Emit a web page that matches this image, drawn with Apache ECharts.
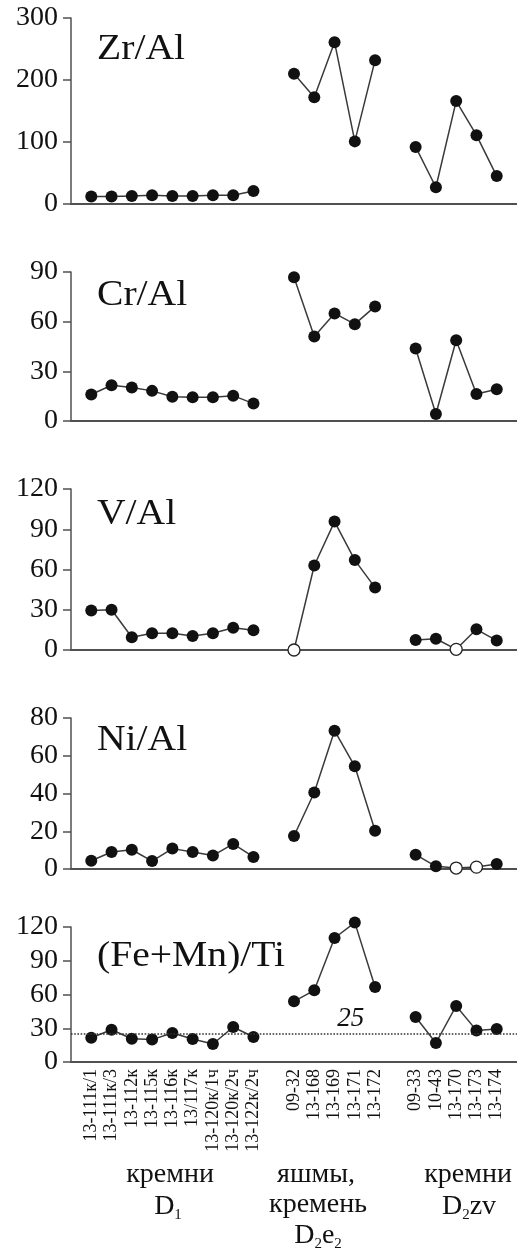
<!DOCTYPE html>
<html>
<head>
<meta charset="utf-8">
<script src="https://cdn.jsdelivr.net/npm/echarts@6/dist/echarts.min.js"></script>
<style>
html,body{margin:0;padding:0;background:#fff;}
#c{width:517px;height:1251px;}
</style>
</head>
<body>
<div id="c"></div>
<script>
// sample names per group
const groupD1 = ['13-111к/1','13-111к/3','13-112к','13-115к','13-116к','13/117к','13-120к/1ч','13-120к/2ч','13-122к/2ч'];
const groupD2e2 = ['09-32','13-168','13-169','13-171','13-172'];
const groupD2zv = ['09-33','10-43','13-170','13-173','13-174'];

// values (D1 | D2e2 | D2zv)
const zrAl  = [12,12,13,14,13,13,14,14,21,   210,172,261,101,232,   92,27,166,111,45];
const crAl  = [16,21.6,20.2,18.2,14.7,14.3,14.3,15.3,10.5,   86.8,51,65,58.5,69.2,   43.8,4.2,48.8,16.3,19.2];
const vAl   = [29.5,30,9.5,12.5,12.5,10.5,12.5,16.6,14.7,   0,63,95.7,67,46.5,   7.5,8.4,0.5,15.4,7];
const niAl  = [4.4,9,10.2,4.2,10.8,9,7.1,13.3,6.4,   17.5,40.5,73.3,54.4,20.3,   7.6,1.4,0.5,1,2.7];
const feMnTi= [21.6,28.7,20.7,19.9,25.8,20.4,16,31.1,22.2,   53.9,63.7,110.2,123.9,66.7,   40,16.9,49.8,28.1,29.3];

// samples drawn as open circles
const openV  = ['09-32','13-170'];
const openNi = ['13-170','13-173'];

// panel names and y ticks
const panelNames = ['Zr/Al','Cr/Al','V/Al','Ni/Al','(Fe+Mn)/Ti'];
const yMax = [300, 90, 120, 80, 120];
const yStep = [100, 30, 30, 20, 30];
const refLevel = 25;

const categories = [''].concat(groupD1, [''], groupD2e2, [''], groupD2zv, ['']);

function pad(vals, openList) {
  const out = [null];
  let k = 0;
  const push = (names) => {
    names.forEach(n => {
      const v = vals[k++];
      if (openList && openList.indexOf(n) >= 0) {
        out.push({value: v, itemStyle: {color: '#fff', borderColor: '#222', borderWidth: 1.3}});
      } else out.push(v);
    });
  };
  push(groupD1); out.push(null);
  push(groupD2e2); out.push(null);
  push(groupD2zv); out.push(null);
  return out;
}

const allVals = [zrAl, crAl, vAl, niAl, feMnTi];
const opens = [null, null, openV, openNi, null];

const gridTops = [18, 272, 489, 718, 927];
const gridHeights = [186, 149, 161, 151, 135];
const titleY = [50, 296, 515, 741, 957];

const FONT = "'Liberation Serif', 'DejaVu Serif', serif";

const grids = [], xAxes = [], yAxes = [], series = [], graphics = [];
for (let i = 0; i < 5; i++) {
  grids.push({left: 71, width: 450, top: gridTops[i], height: gridHeights[i]});
  xAxes.push({
    type: 'category', gridIndex: i, data: categories, boundaryGap: false,
    axisLine: {show: true, lineStyle: {color: '#505050', width: 2}},
    axisTick: {show: false},
    axisLabel: i === 4 ? {show: true, interval: 0, rotate: 90, fontFamily: FONT, fontSize: 18, color: '#111', margin: 7} : {show: false},
    splitLine: {show: false}
  });
  yAxes.push({
    type: 'value', gridIndex: i, min: 0, max: yMax[i], interval: yStep[i],
    axisLine: {show: true, lineStyle: {color: '#505050', width: 1.5}},
    axisTick: {show: true, length: 8, lineStyle: {color: '#505050', width: 1.5}},
    axisLabel: {fontFamily: FONT, fontSize: 28, color: '#111', margin: 13},
    splitLine: {show: false}
  });
  const s = {
    type: 'line', xAxisIndex: i, yAxisIndex: i,
    data: pad(allVals[i], opens[i]),
    connectNulls: false,
    symbol: 'circle', symbolSize: 12, showAllSymbol: true,
    lineStyle: {color: '#3a3a3a', width: 1.5},
    itemStyle: {color: '#111'},
    clip: false,
    z: 3
  };
  if (i === 4) {
    s.markLine = {
      silent: true, symbol: ['none', 'none'],
      lineStyle: {color: '#333', type: 'dotted', width: 1.6},
      label: {show: false},
      data: [{yAxis: refLevel}]
    };
    s.markPoint = {
      silent: true, symbol: 'circle', symbolSize: 0,
      label: {show: true, position: 'top', distance: 1, offset: [-4, 0], formatter: String(refLevel), fontFamily: FONT, fontStyle: 'italic', fontSize: 27, color: '#111'},
      data: [{coord: ['13-171', refLevel]}]
    };
  }
  series.push(s);
  graphics.push({
    type: 'text', x: 97, y: titleY[i], scaleX: 1.1,
    style: {text: panelNames[i], fontFamily: FONT, fontSize: 36, fill: '#111', align: 'left', verticalAlign: 'middle'}
  });
}

const groupLabelStyle = {fontFamily: FONT, fontSize: 28, fill: '#111', align: 'center', verticalAlign: 'middle',
  rich: {n: {fontFamily: FONT, fontSize: 28, color: '#111'}, s: {fontFamily: FONT, fontSize: 15, color: '#111', padding: [16, 0, 0, 0]}}};
function gl(text, x, y) {
  graphics.push({type: 'text', x: x, y: y, style: Object.assign({}, groupLabelStyle, {text: text})});
}
gl('кремни', 170, 1175);
gl('{n|D}{s|1}', 168, 1207);
gl('яшмы,', 316, 1175);
gl('кремень', 318, 1205);
gl('{n|D}{s|2}{n|e}{s|2}', 318, 1236);
gl('кремни', 468, 1175);
gl('{n|D}{s|2}{n|zv}', 469, 1207);

const chart = echarts.init(document.getElementById('c'), null, {renderer: 'canvas'});
chart.setOption({
  animation: false,
  backgroundColor: '#fff',
  grid: grids, xAxis: xAxes, yAxis: yAxes, series: series,
  graphic: graphics
});
</script>
</body>
</html>
